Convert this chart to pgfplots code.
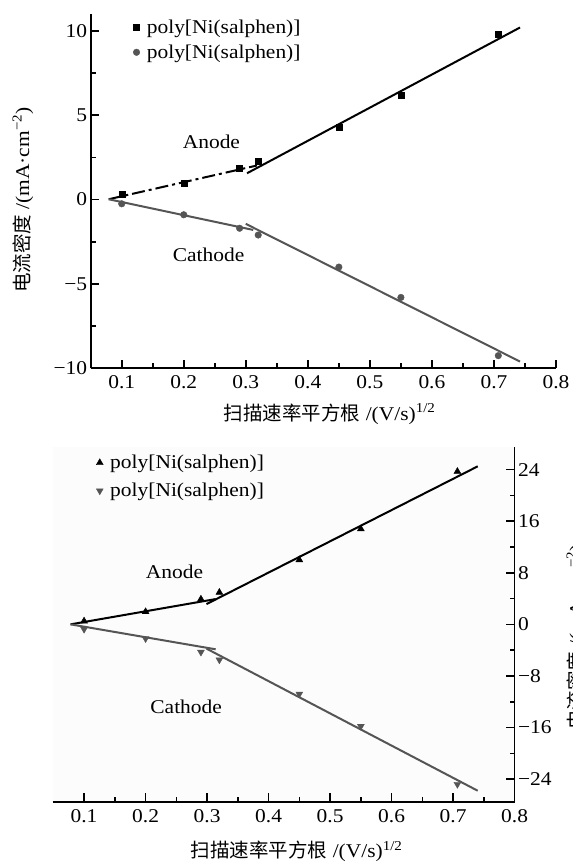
\documentclass[border=0pt]{standalone}
\usepackage{fontspec}
\setmainfont{Liberation Serif}[FakeStretch=1.1]
\newfontfamily\cjk{Noto Sans CJK SC}
\usepackage{pgfplots}
\pgfplotsset{compat=1.18}
\definecolor{cgray}{HTML}{555555}
\newcommand\fs{\fontsize{19.5}{22}\selectfont}

\begin{document}
\begin{tikzpicture}[x=1pt,y=1pt]
\pgfplotsset{
 common/.style={
  scale only axis,
  axis line style={-, line width=1.6pt},
  tick align=inside,
  major tick length=8.5pt, minor tick length=5pt,
  every tick/.style={black, line width=1.6pt},
  tick label style={font=\fs},
  xticklabel style={yshift=-4pt},
  minor x tick num=1,
  minor y tick num=1,
  xtick={0.1,0.2,0.3,0.4,0.5,0.6,0.7,0.8},
  xticklabels={0.1,0.2,0.3,0.4,0.5,0.6,0.7,0.8},
  clip=false,
  legend cell align=left,
  legend style={draw=none, fill=none, font=\fs, inner sep=0pt, column sep=5pt, anchor=north west},
  legend image code/.code={\draw[mark repeat=1,#1] plot coordinates {(0pt,0pt)};},
 }
}
% ---------------- top chart ----------------
\begin{axis}[common,
  at={(90.7pt,494.7pt)}, anchor=south west,
  width=465.3pt, height=354.3pt,
  axis x line*=bottom, axis y line*=left,
  xmin=0.05, xmax=0.8, ymin=-10, ymax=11,
  ytick={-10,-5,0,5,10},
  yticklabels={−10,−5,0,5,10},
  legend style={at={(rel axis cs:0.091,0.99)}, row sep=6pt},
]
\addplot[only marks, mark=square*, mark size=3pt, black] coordinates {
 (0.1,0.3) (0.2,1.0) (0.29,1.85) (0.32,2.25) (0.45,4.3) (0.55,6.2) (0.707,9.8)};
\addlegendentry{poly[Ni(salphen)]}
\addplot[only marks, mark=*, mark size=3.3pt, cgray] coordinates {
 (0.1,-0.25) (0.2,-0.9) (0.29,-1.7) (0.32,-2.1) (0.45,-4.0) (0.55,-5.8) (0.707,-9.25)};
\addlegendentry{poly[Ni(salphen)]}
\addplot[black, line width=2pt, dash pattern=on 13pt off 4pt on 3pt off 4pt, forget plot] coordinates {(0.079,0.02) (0.318,2.02)};
\addplot[black, line width=2pt, forget plot] coordinates {(0.302,1.56) (0.742,10.2)};
\addplot[cgray, line width=2pt, forget plot] coordinates {(0.079,0.02) (0.312,-1.8)};
\addplot[cgray, line width=2pt, forget plot] coordinates {(0.300,-1.44) (0.742,-9.6)};
\node[font=\fs] at (axis cs:0.2446,3.43) {Anode};
\node[font=\fs] at (axis cs:0.240,-3.29) {Cathode};
\end{axis}
\node[font=\fs] at (329.7pt,449pt) {{\cjk 扫描速率平方根} /(V/s)\textsuperscript{1/2}};
\node[font=\fs, rotate=90] at (23pt,663pt) {{\cjk 电流密度} /(mA·cm\textsuperscript{−2})};
% ---------------- bottom chart ----------------
\begin{axis}[common,
  at={(52.7pt,61.3pt)}, anchor=south west,
  width=461.9pt, height=354.7pt,
  axis x line*=bottom, axis y line*=right,
  axis background/.style={fill=black!1},
  xmin=0.049, xmax=0.8, ymin=-27.5, ymax=27.5,
  ytick={-24,-16,-8,0,8,16,24},
  yticklabels={−24,−16,−8,0,8,16,24},
  legend style={at={(rel axis cs:0.094,0.983)}, row sep=9pt},
]
\addplot[only marks, mark=triangle*, mark size=4pt, black] coordinates {
 (0.1,0.5) (0.2,1.95) (0.29,3.9) (0.32,4.95) (0.45,10.0) (0.55,14.8) (0.707,23.7)};
\addlegendentry{poly[Ni(salphen)]}
\addplot[only marks, mark=triangle*, mark options={rotate=180}, mark size=4pt, cgray] coordinates {
 (0.1,-0.75) (0.2,-2.2) (0.29,-4.3) (0.32,-5.5) (0.45,-10.8) (0.55,-15.8) (0.707,-24.8)};
\addlegendentry{poly[Ni(salphen)]}
\addplot[black, line width=2pt, forget plot] coordinates {(0.078,0) (0.314,3.92)};
\addplot[black, line width=2pt, forget plot] coordinates {(0.299,3.14) (0.740,24.5)};
\addplot[cgray, line width=2pt, forget plot] coordinates {(0.078,0) (0.314,-3.87)};
\addplot[cgray, line width=2pt, forget plot] coordinates {(0.299,-3.76) (0.740,-25.8)};
\node[font=\fs] at (axis cs:0.247,8.17) {Anode};
\node[font=\fs] at (axis cs:0.266,-12.84) {Cathode};
\end{axis}
\node[font=\fs] at (296.7pt,11.3pt) {{\cjk 扫描速率平方根} /(V/s)\textsuperscript{1/2}};
\node[font=\fs, rotate=90] at (577pt,226pt) {{\cjk 电流密度} /(mA·cm\textsuperscript{−2})};
\pgfresetboundingbox
\useasboundingbox (0,0) rectangle (573pt,863pt);
\end{tikzpicture}
\end{document}
